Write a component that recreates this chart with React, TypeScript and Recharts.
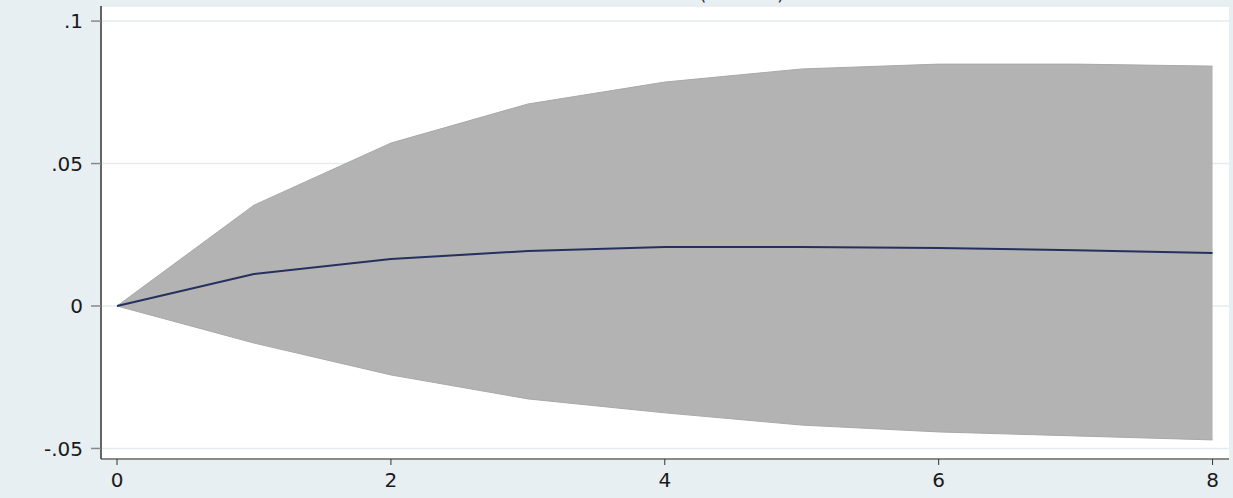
import React from "react";
import { ComposedChart, Area, Line, XAxis, YAxis, CartesianGrid } from "recharts";

const steps = [0, 1, 2, 3, 4, 5, 6, 7, 8];
const irf = [0, 0.0112, 0.0165, 0.0193, 0.0207, 0.0207, 0.0204, 0.0196, 0.0186];
const upper = [0, 0.0354, 0.0572, 0.0709, 0.0786, 0.0832, 0.0849, 0.0849, 0.0842];
const lower = [0, -0.013, -0.0242, -0.0326, -0.0375, -0.0418, -0.0442, -0.0456, -0.047];
const xTicks = [0, 2, 4, 6, 8];
const yTicks = [-0.05, 0, 0.05, 0.1];

const data = steps.map((s, i) => ({ step: s, irf: irf[i], band: [lower[i], upper[i]] }));

const fmtY = (v: number) => {
  if (v === 0) return "0";
  const s = String(Math.round(v * 1000) / 1000);
  return s.replace(/^(-?)0\./, "$1.");
};

const font = "'DejaVu Sans', Verdana, sans-serif";

export default function App() {
  return (
    <div style={{ position: "fixed", left: 0, top: 0, width: 1233, height: 498, background: "#e8eff2", overflow: "hidden" }}>
      <span style={{ position: "absolute", left: 699, top: -18, fontFamily: font, fontSize: 19, color: "#333" }}>(</span>
      <span style={{ position: "absolute", left: 777, top: -18, fontFamily: font, fontSize: 19, color: "#333" }}>)</span>
      <ComposedChart width={1233} height={498} data={data} margin={{ top: 6, right: 4, bottom: 0, left: 0 }}>
        <CartesianGrid vertical={false} horizontal={true} stroke="#e4ecef" fill="#ffffff" strokeWidth={1.5} />
        <XAxis
          type="number"
          dataKey="step"
          domain={[-0.117, 8.12]}
          ticks={xTicks}
          allowDataOverflow
          stroke="#8a8a8a"
          strokeWidth={2}
          tickSize={6}
          tickLine={{ stroke: "#333", strokeWidth: 1 }}
          tickMargin={8}
          tick={{ fill: "#1a1a1a", fontSize: 20, fontFamily: font }}
          height={39}
        />
        <YAxis
          type="number"
          domain={[-0.0537, 0.1053]}
          ticks={yTicks}
          allowDataOverflow
          width={101}
          stroke="#333"
          strokeWidth={1.5}
          tickSize={10}
          tickLine={{ stroke: "#888", strokeWidth: 1.5 }}
          tickMargin={8}
          tickFormatter={fmtY}
          tick={{ fill: "#1a1a1a", fontSize: 20, fontFamily: font }}
        />
        <Area
          type="linear"
          dataKey="band"
          fill="#b3b3b3"
          fillOpacity={1}
          stroke="#a9a9a9"
          strokeWidth={1}
          isAnimationActive={false}
          dot={false}
          activeDot={false}
        />
        <Line
          type="linear"
          dataKey="irf"
          stroke="#26305e"
          strokeWidth={2}
          dot={false}
          activeDot={false}
          isAnimationActive={false}
        />
      </ComposedChart>
    </div>
  );
}
